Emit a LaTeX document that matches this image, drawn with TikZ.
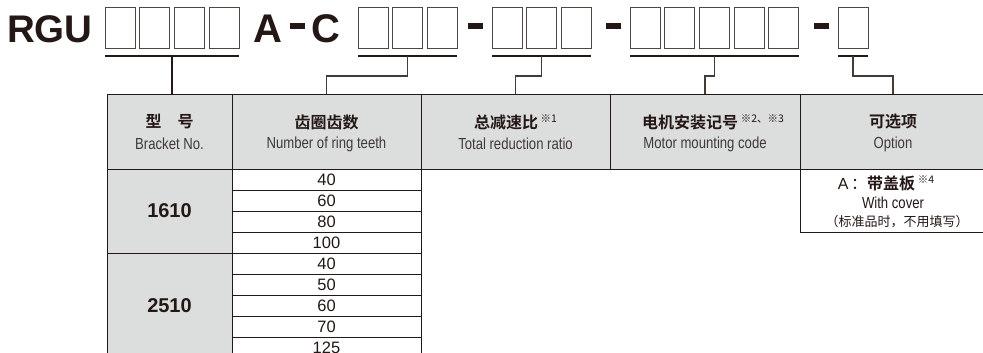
\documentclass[tikz,border=0pt]{standalone}
\usepackage{fontspec}
\setmainfont{Liberation Sans}
\newfontfamily\cond[FakeStretch=0.82]{Liberation Sans}
\newfontfamily\cjk{Noto Sans CJK SC}
\newfontfamily\cjkb{Noto Sans CJK SC Bold}
\usetikzlibrary{calc}
\definecolor{ink}{HTML}{231815}
\definecolor{hdr}{HTML}{DCDDDD}
\definecolor{ltxt}{HTML}{3E3A39}
\newcommand\noteref[1]{\raisebox{6pt}{\fontsize{10.5}{10.5}\selectfont\cjk #1}}
\tikzset{
  cbox/.style={draw=ink!80, line width=0.9pt, minimum width=30pt, minimum height=41pt, inner sep=0pt, outer sep=0pt},
  dashbar/.style={fill=ink, minimum width=15pt, minimum height=6pt, inner sep=0pt},
  bigtxt/.style={font=\fontsize{40}{40}\selectfont\bfseries, text=ink, inner sep=0pt},
  uline/.style={draw=ink, line width=2pt},
  link/.style={draw=ink!85, line width=1.1pt},
  link1/.style={draw=ink, line width=2pt},
  hcell/.style={draw=ink, line width=0.8pt, fill=hdr, inner sep=0pt, outer sep=0pt, minimum height=75pt, anchor=north west},
  gcell/.style={draw=ink, line width=0.8pt, fill=hdr, inner sep=0pt, outer sep=0pt, anchor=north west, minimum width=125pt},
  ncell/.style={draw=ink, line width=0.8pt, fill=white, inner sep=0pt, outer sep=0pt, anchor=north west, minimum width=189pt, minimum height=21pt, font=\fontsize{16.5}{16.5}\selectfont, text=ink},
  ocell/.style={draw=ink, line width=0.8pt, inner sep=0pt, outer sep=0pt, anchor=north west, minimum width=186pt, minimum height=63pt},
  zhh/.style={font=\fontsize{16}{16}\selectfont\cjkb, text=ink, inner sep=0pt},
  enh/.style={font=\fontsize{16}{16}\selectfont\cond, text=ltxt, inner sep=0pt},
  bnum/.style={font=\fontsize{20}{20}\selectfont\bfseries, text=ink, inner sep=0pt},
}
\begin{document}
\begin{tikzpicture}[x=1pt,y=-1pt]
\useasboundingbox (0,0) rectangle (983,353);
\clip (0,0) rectangle (983,353);
% code line
\node[bigtxt, font=\fontsize{38.5}{38.5}\selectfont\bfseries, anchor=base west] (rgu) at (7,43) {RGU};
\foreach \i in {0,...,3} \node[cbox] (ga\i) at (120+34.7*\i,27.5) {};
\node[bigtxt, anchor=base] (la) at (267.5,43) {A};
\node[dashbar] (d0) at (297,26.5) {};
\node[bigtxt, anchor=base] (lc) at (325.5,43) {C};
\foreach \i in {0,...,2} \node[cbox] (gb\i) at (373+34.7*\i,27.5) {};
\node[dashbar] (d1) at (475,26.5) {};
\foreach \i in {0,...,2} \node[cbox] (gc\i) at (507+34.7*\i,27.5) {};
\node[dashbar] (d2) at (613,26.5) {};
\foreach \i in {0,...,4} \node[cbox] (gd\i) at (645+34.7*\i,27.5) {};
\node[dashbar] (d3) at (821,26.5) {};
\node[cbox] (ge0) at (853,27.5) {};
% underlines
\draw[uline] (ga0.west |- 0,56) -- (ga3.east |- 0,56);
\draw[uline] (gb0.west |- 0,56) -- (gb2.east |- 0,56);
\draw[uline] (gc0.west |- 0,56) -- (gc2.east |- 0,56);
\draw[uline] (gd0.west |- 0,56) -- (gd4.east |- 0,56);
\draw[uline] (ge0.west |- 0,56) -- (ge0.east |- 0,56);
% header cells
\node[hcell, minimum width=125pt] (h1) at (107,94) {};
\node[hcell, minimum width=189pt] (h2) at (h1.north east) {};
\node[hcell, minimum width=189pt] (h3) at (h2.north east) {};
\node[hcell, minimum width=190pt] (h4) at (h3.north east) {};
\node[hcell, minimum width=186pt] (h5) at (h4.north east) {};
% connectors
\coordinate (u1) at ($(ga1.east)!0.5!(ga2.west)$);
\draw[link1] (u1 |- 0,56) -- (u1 |- h1.north);
\draw[link] (gb1 |- 0,56) -- (gb1 |- 0,76) -| (h2.north);
\draw[link] (gc1 |- 0,56) -- (gc1 |- 0,76) -| (h3.north);
\draw[link] (gd2 |- 0,56) -- (gd2 |- 0,76) -| (h4.north);
\draw[link] (ge0 |- 0,56) -- (ge0 |- 0,76) -| (h5.north);
% header texts
\node[zhh] (t1a) at (h1.center |- 0,122) {型　号};
\node[enh] (t1b) at (h1.center |- 0,144) {Bracket No.};
\node[zhh] (t2a) at (h2.center |- 0,122) {齿圈齿数};
\node[enh] (t2b) at (h2.center |- 0,144) {Number of ring teeth};
\node[zhh] (t3a) at (h3.center |- 0,122) {总减速比\,\noteref{※1}};
\node[enh] (t3b) at (h3.center |- 0,144) {Total reduction ratio};
\node[zhh] (t4a) at ($(h4.center |- 0,122)+(8,0)$) {电机安装记号\,\noteref{※2、※3}};
\node[enh] (t4b) at (h4.center |- 0,144) {Motor mounting code};
\node[zhh] (t5a) at (h5.center |- 0,122) {可选项};
\node[enh] (t5b) at (h5.center |- 0,144) {Option};
% bracket column
\node[gcell, minimum height=84pt] (r1) at (h1.south west) {};
\node[gcell, minimum height=105pt] (r2) at (r1.south west) {};
\node[bnum] (r1t) at (r1.center) {1610};
\node[bnum] (r2t) at (r2.center) {2510};
% teeth column
\node[ncell] (n1) at (h2.south west) {40};
\node[ncell] (n2) at (n1.south west) {60};
\node[ncell] (n3) at (n2.south west) {80};
\node[ncell] (n4) at (n3.south west) {100};
\node[ncell] (n5) at (n4.south west) {40};
\node[ncell] (n6) at (n5.south west) {50};
\node[ncell] (n7) at (n6.south west) {60};
\node[ncell] (n8) at (n7.south west) {70};
\node[ncell] (n9) at (n8.south west) {125};
% option column
\node[ocell] (o1) at (h5.south west) {};
\node[inner sep=0pt, text=ink, font=\fontsize{16}{16}\selectfont] (o1a) at ($(o1.center |- 0,183)+(-7,0)$) {A\,{\cjk ：}{\cjkb 带盖板}\,\noteref{※4}};
\node[enh, text=ink] (o1b) at (o1.center |- 0,203) {With cover};
\node[inner sep=0pt, text=ink, font=\fontsize{13}{13}\selectfont\cjk] (o1c) at ($(o1.center |- 0,222)+(4,0)$) {（标准品时，不用填写）};
\end{tikzpicture}
\end{document}
